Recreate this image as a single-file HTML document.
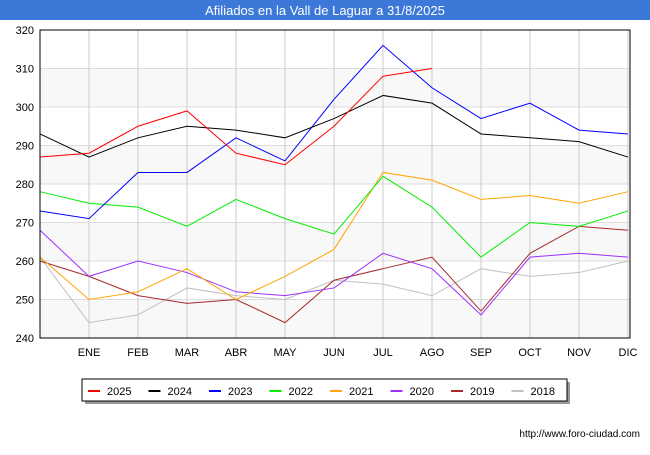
<!DOCTYPE html>
<html><head><meta charset="utf-8"><style>
body{margin:0;width:650px;height:450px;background:#fff;font-family:"Liberation Sans",sans-serif;overflow:hidden}
</style></head><body>
<svg width="650" height="450" xmlns="http://www.w3.org/2000/svg">
<rect x="0" y="0" width="650" height="20" fill="#3b78d8"/>
<text x="325" y="15" fill="#fff" font-size="13" text-anchor="middle">Afiliados en la Vall de Laguar a 31/8/2025</text>
<g id="bands"></g><g id="grid"></g><g id="axes"></g><g id="series"></g>
<rect x="40" y="30" width="590" height="308" fill="none" stroke="#000" stroke-width="1"/>
<rect x="85" y="382" width="485" height="22" fill="#999"/>
<rect x="82" y="379" width="485" height="22" fill="#fff" stroke="#000"/>
<g id="legend"></g>
<text x="640" y="437" font-size="10" text-anchor="end" fill="#000">http://www.foro-ciudad.com</text>
</svg>
<script>
const ns="http://www.w3.org/2000/svg";
const months=["","ENE","FEB","MAR","ABR","MAY","JUN","JUL","AGO","SEP","OCT","NOV","DIC"];
const yTicks=[240,250,260,270,280,290,300,310,320];
const seriesNames=["2025","2024","2023","2022","2021","2020","2019","2018"];
const colors=["#ff0000","#000000","#0000ff","#00ee00","#ffa500","#9b30ff","#a52a2a","#c0c0c0"];
const s2025=[287,288,295,299,288,285,295,308,310];
const s2024=[293,287,292,295,294,292,297,303,301,293,292,291,287];
const s2023=[273,271,283,283,292,286,302,316,305,297,301,294,293];
const s2022=[278,275,274,269,276,271,267,282,274,261,270,269,273];
const s2021=[261,250,252,258,250,256,263,283,281,276,277,275,278];
const s2020=[268,256,260,257,252,251,253,262,258,246,261,262,261];
const s2019=[260,256,251,249,250,244,255,258,261,247,262,269,268];
const s2018=[261,244,246,253,251,250,255,254,251,258,256,257,260];
const allSeries=[s2025,s2024,s2023,s2022,s2021,s2020,s2019,s2018];
const x=i=>40+i*(588/12);
const y=v=>338-(v-240)*(308/80);
function mk(t,a,p){const e=document.createElementNS(ns,t);for(const k in a)e.setAttribute(k,a[k]);document.getElementById(p).appendChild(e);return e;}
for(let i=0;i<yTicks.length-1;i++){
  if(i%2===0){const r=mk('rect',{x:40,y:y(yTicks[i+1]),width:590,height:y(yTicks[i])-y(yTicks[i+1]),fill:'#f8f8f8'},'bands');
  
  }
}
yTicks.forEach(v=>{
  const l=mk('line',{x1:40,x2:630,y1:y(v),y2:y(v),stroke:'#ddd'},'grid');
  
  
  const t=mk('text',{x:34,y:y(v)+4,'font-size':11,'text-anchor':'end'},'axes');t.textContent=v;
  
  
});
months.forEach((m,i)=>{
  if(i===0)return;
  const l=mk('line',{x1:x(i),x2:x(i),y1:30,y2:338,stroke:'#ccc'},'grid');
  
  
  const t=mk('text',{x:x(i),y:356,'font-size':11,'text-anchor':'middle'},'axes');t.textContent=m;
  
  
});
for(let k=allSeries.length-1;k>=0;k--){
  const pts=allSeries[k].map((v,i)=>x(i)+','+y(v)).join(' ');
  const p=mk('polyline',{points:pts,fill:'none',stroke:colors[k],'stroke-width':1},'series');
  
  
}
seriesNames.forEach((n,k)=>{
  const lx=88+k*60.5;
  const l=mk('line',{x1:lx,x2:lx+12,y1:391,y2:391,stroke:colors[k],'stroke-width':2},'legend');
  
  
  const t=mk('text',{x:lx+19,y:395,'font-size':11},'legend');t.textContent=n;
  
  
});
</script>
</body></html>
